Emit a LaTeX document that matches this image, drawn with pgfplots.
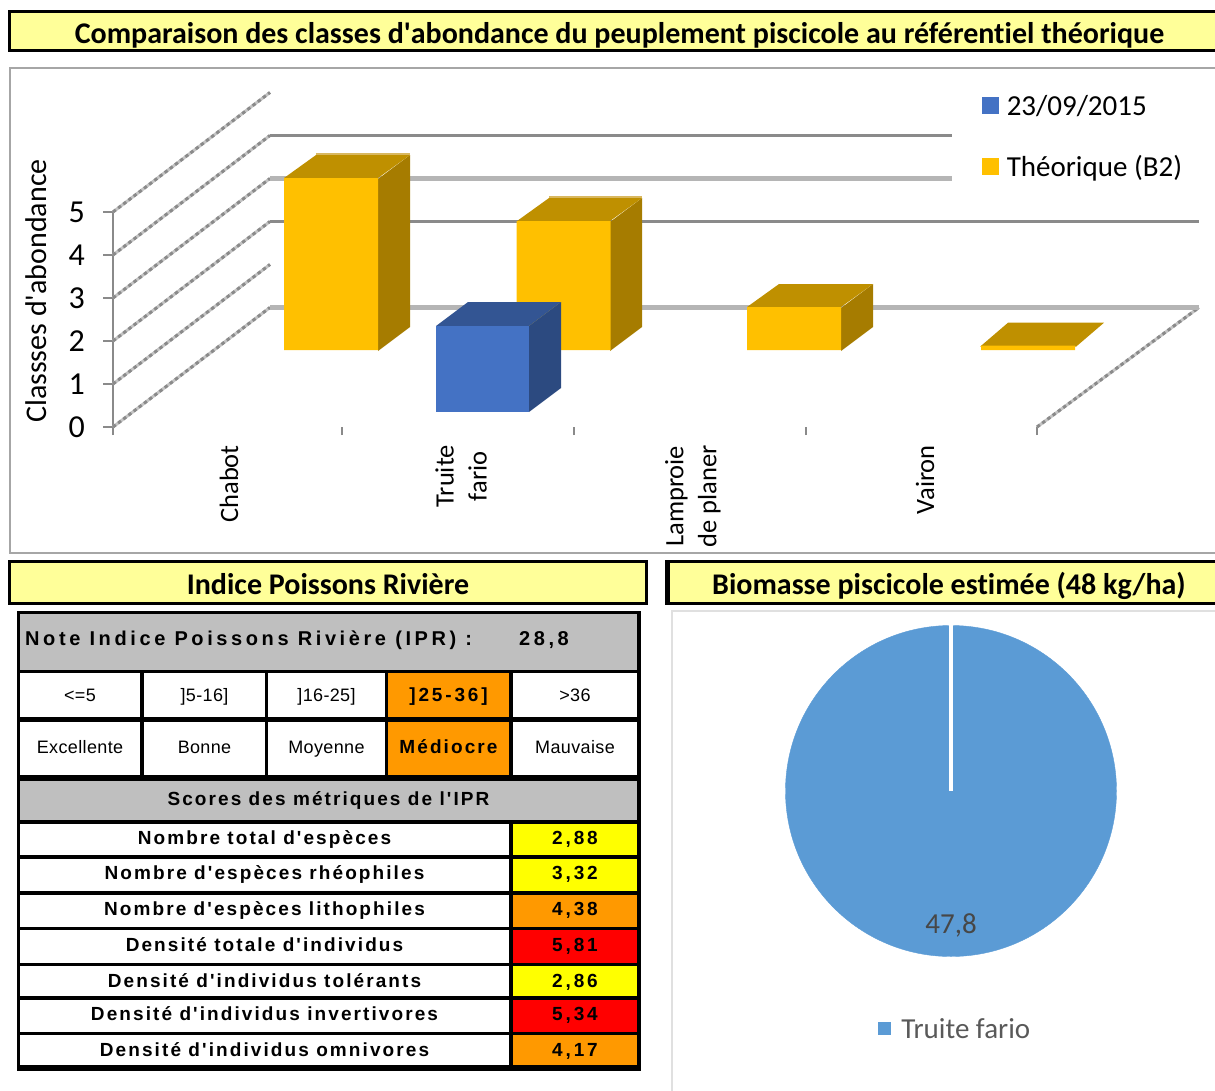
\documentclass[border=0pt]{standalone}
\usepackage{pgfplots}
\pgfplotsset{compat=1.18}
\usepackage{fontspec}
\setmainfont[Ligatures=NoCommon]{Carlito}
\newfontfamily\tabfont[LetterSpace=11]{Liberation Sans}
\newfontfamily\widefont[LetterSpace=15]{Liberation Sans}
\newfontfamily\headfont[LetterSpace=18]{Liberation Sans}
\newfontfamily\regfont[LetterSpace=2]{Liberation Sans}
\definecolor{ybox}{HTML}{FFFF99}
\definecolor{gold}{HTML}{FFC000}
\definecolor{goldside}{HTML}{A67C00}
\definecolor{goldtop}{HTML}{BF9000}
\definecolor{goldlight}{HTML}{D9B860}
\definecolor{blue1}{HTML}{4472C4}
\definecolor{blueside}{HTML}{2C4A80}
\definecolor{bluetop}{HTML}{335593}
\definecolor{griddark}{HTML}{8A8A8A}
\definecolor{gridlight}{HTML}{B5B5B5}
\definecolor{difflight}{HTML}{C4C4C4}
\definecolor{framec}{HTML}{A6A6A6}
\definecolor{piec}{HTML}{5B9BD5}
\definecolor{tgray}{HTML}{BFBFBF}
\definecolor{torange}{HTML}{FF9900}
\definecolor{pureyellow}{rgb}{1,1,0}
\definecolor{purered}{rgb}{1,0,0}
\newcommand\tcell[6]{\fill[#5] (#1,#2) rectangle (#3,#4);\node[anchor=center,inner sep=0pt,text height=13bp,text depth=4bp] at ({(#1+#3)/2},{(#2+#4)/2}) {#6};}
\newcommand\tb{\tabfont\bfseries\fontsize{19bp}{20bp}\selectfont}
\newcommand\tw{\widefont\bfseries\fontsize{19bp}{20bp}\selectfont}
\newcommand\thd{\headfont\bfseries\fontsize{20bp}{22bp}\selectfont}
\newcommand\tr{\regfont\fontsize{18bp}{20bp}\selectfont}
\newcommand\dn[1]{\raisebox{-2bp}{#1}}
\newcommand\banner[5]{\fill[black] (#1,#2) rectangle (#3,#4);\fill[ybox] ({#1+3},{#2+3}) rectangle ({#3-3},{#4-3});\node[anchor=center,inner sep=0pt] at ({(#1+#3)/2},{(#2+#4)/2+6}) {\bfseries\fontsize{30bp}{32bp}\selectfont\strut #5};}
\begin{document}
\begin{tikzpicture}
\useasboundingbox (0bp,0bp) rectangle (1215bp,-1091bp);
\begin{scope}[x=1bp,y=-1bp]
\banner{8}{10}{1225}{52}{\hspace*{6bp}Comparaison des classes d\textquotesingle abondance du peuplement piscicole au référentiel théorique}
\banner{8}{560}{648}{605}{Indice Poissons Rivière}
\banner{665}{560}{1225}{605}{\hspace*{8bp}Biomasse piscicole estimée (48 kg/ha)}
\fill[black] (665,560) rectangle (670,605);
\draw[framec,line width=2bp] (10,68) rectangle (1225,553);
\draw[black!12,line width=1.5bp] (672,1100) -- (672,611) -- (1225,611);
\fill[black] (17,611) rectangle (641,1071);
\tcell{20}{614}{637}{670}{tgray}{}
\node[anchor=west,inner sep=0pt,text height=14bp,text depth=4bp] at (25,640) {\thd Note Indice Poissons Rivière (IPR) :};
\node[anchor=center,inner sep=0pt,text height=14bp,text depth=4bp] at (544,640) {\thd 28,8};
\tcell{20}{673}{140}{717}{white}{\tr\dn{<=5}}
\tcell{144}{673}{265}{717}{white}{\tr\dn{]5-16]}}
\tcell{268}{673}{385}{717}{white}{\tr\dn{]16-25]}}
\tcell{388}{673}{509}{717}{torange}{\tw\dn{]25-36]}}
\tcell{513}{673}{637}{717}{white}{\tr\dn{>36}}
\tcell{20}{722}{140}{775}{white}{\tr Excellente}
\tcell{144}{722}{265}{775}{white}{\tr Bonne}
\tcell{268}{722}{385}{775}{white}{\tr Moyenne}
\tcell{388}{722}{509}{775}{torange}{\tb Médiocre}
\tcell{513}{722}{637}{775}{white}{\tr Mauvaise}
\tcell{20}{781}{637}{820}{tgray}{\tb Scores des métriques de l'IPR}
\tcell{20}{824}{509}{855}{white}{\tb Nombre total d'espèces}
\tcell{513}{824}{637}{855}{pureyellow}{\tw 2,88}
\tcell{20}{859}{509}{891}{white}{\tb Nombre d'espèces rhéophiles}
\tcell{513}{859}{637}{891}{pureyellow}{\tw 3,32}
\tcell{20}{895}{509}{927}{white}{\tb Nombre d'espèces lithophiles}
\tcell{513}{895}{637}{927}{torange}{\tw 4,38}
\tcell{20}{930}{509}{963}{white}{\tb Densité totale d'individus}
\tcell{513}{930}{637}{963}{purered}{\tw 5,81}
\tcell{20}{966}{509}{996}{white}{\tb\dn{Densité d'individus tolérants}}
\tcell{513}{966}{637}{996}{pureyellow}{\tw\dn{2,86}}
\tcell{20}{1000}{509}{1032}{white}{\tb Densité d'individus invertivores}
\tcell{513}{1000}{637}{1032}{purered}{\tw 5,34}
\tcell{20}{1035}{509}{1065}{white}{\tb\dn{Densité d'individus omnivores}}
\tcell{513}{1035}{637}{1065}{torange}{\tw\dn{4,17}}
\end{scope}
\begin{axis}[
  at={(113bp,-427bp)},anchor=origin,
  scale only axis,width=924bp,height=215bp,
  xmin=113,xmax=1037,ymin=0,ymax=5,clip=false,
  axis y line=left,axis x line=bottom,
  axis line style={-,draw=griddark,line width=1.5bp},
  x axis line style={draw=none},
  tick align=outside,
  ytick={0,1,2,3,4,5},
  xtick={229,461,693,925},
  xticklabels={Chabot,{Truite\\fario},{Lamproie\\de planer},Vairon},
  minor xtick={113,342,574,806,1037},
  major x tick style={draw=none},
  minor x tick style={draw=griddark,line width=1.5bp},
  major y tick style={draw=griddark,line width=1.5bp},
  minor tick length=8bp,major tick length=10bp,
  tick label style={/pgf/number format/assume math mode=true},
  yticklabel style={font=\fontsize{32bp}{34bp}\selectfont,inner sep=0pt,xshift=-18bp},
  xticklabel style={font=\fontsize{26.5bp}{33bp}\selectfont,rotate=90,anchor=east,align=center,inner sep=0pt,xshift=-8bp},
  ylabel={Classses d\textquotesingle abondance},
  every axis y label/.style={at={(-77bp,136bp)},rotate=90,anchor=center,font=\fontsize{30bp}{32bp}\selectfont},
  legend image code/.code={\fill[#1] (0bp,-8.5bp) rectangle (17bp,8.5bp);},
  legend cell align=left,
  legend style={draw=none,fill=none,at={(0.94,1.555)},anchor=north west,row sep=35bp,column sep=6bp,font=\fontsize{29bp}{31bp}\selectfont,inner sep=0pt},
]
\addlegendimage{fill=blue1,draw=none}\addlegendentry{23/09/2015}
\addlegendimage{fill=gold,draw=none}\addlegendentry{Théorique (B2)}
% depth lines of the floor and the side wall
\pgfplotsinvokeforeach{0,1,2,3,4,5}{
\addplot[forget plot,difflight,line width=3bp] coordinates {(113,#1) (270,#1+2.78)};
\addplot[forget plot,griddark,line width=3bp,dash pattern=on 3.5bp off 3bp] coordinates {(113,#1) (270,#1+2.78)};
}
\addplot[forget plot,difflight,line width=3bp] coordinates {(1037,0) (1199,2.78)};
\addplot[forget plot,griddark,line width=3bp,dash pattern=on 3.5bp off 3bp] coordinates {(1037,0) (1199,2.78)};
% back wall gridlines
\addplot[forget plot,griddark,line width=3bp] coordinates {(270,6.78) (952,6.78)};
\addplot[forget plot,gridlight,line width=5bp] coordinates {(270,5.78) (952,5.78)};
\addplot[forget plot,griddark,line width=3bp] coordinates {(270,4.78) (1199,4.78)};
\addplot[forget plot,gridlight,line width=5bp] coordinates {(270,2.78) (1199,2.78)};
% Théorique (B2): sides and tops
\addplot[forget plot,fill=goldside,draw=none] coordinates {(378,1.767) (410,2.325) (410,6.325) (378,5.767)} -- cycle;
\addplot[forget plot,fill=goldtop,draw=none] coordinates {(284,5.79) (316,6.325) (410,6.325) (378,5.79)} -- cycle;
\addplot[forget plot,goldlight,line width=2bp] coordinates {(316,6.35) (410,6.35)};
\addplot[forget plot,fill=goldside,draw=none] coordinates {(610,1.767) (642,2.325) (642,5.325) (610,4.767)} -- cycle;
\addplot[forget plot,fill=goldtop,draw=none] coordinates {(517,4.79) (549,5.325) (642,5.325) (610,4.79)} -- cycle;
\addplot[forget plot,goldlight,line width=2bp] coordinates {(549,5.35) (642,5.35)};
\addplot[forget plot,fill=goldside,draw=none] coordinates {(841,1.767) (873,2.325) (873,3.325) (841,2.767)} -- cycle;
\addplot[forget plot,fill=goldtop,draw=none] coordinates {(747,2.79) (779,3.325) (873,3.325) (841,2.79)} -- cycle;
\addplot[forget plot,fill=goldtop,draw=none] coordinates {(980,1.867) (1008,2.425) (1104,2.425) (1076,1.867)} -- cycle;
% Théorique (B2): fronts
\addplot[forget plot,ybar,bar width=94bp,bar shift=0pt,fill=gold,draw=none,yshift=77bp] coordinates {(331,4) (563.5,3) (794,1) (1028,0.1)};
% 23/09/2015
\addplot[forget plot,fill=blueside,draw=none] coordinates {(529,0.349) (561,0.907) (561,2.907) (529,2.349)} -- cycle;
\addplot[forget plot,fill=bluetop,draw=none] coordinates {(436,2.349) (468,2.907) (561,2.907) (529,2.349)} -- cycle;
\addplot[forget plot,ybar,bar width=93bp,bar shift=0pt,fill=blue1,draw=none,yshift=15bp] coordinates {(482.5,2)};
\end{axis}
% pie: one slice, Truite fario = 47,8
\begin{axis}[
  at={(951bp,-791bp)},anchor=center,
  scale only axis,width=330bp,height=330bp,
  xmin=-1,xmax=1,ymin=-1,ymax=1,clip=false,hide axis,
]
\addplot[only marks,mark=*,mark size=165.5bp,mark options={fill=piec,draw=piec},forget plot] coordinates {(0,0)};
\end{axis}
\begin{axis}[
  at={(951bp,-791bp)},anchor=center,
  scale only axis,width=330bp,height=330bp,
  xmin=-1,xmax=1,ymin=-1,ymax=1,clip=false,hide axis,
  legend image code/.code={\fill[#1] (0bp,-6.5bp) rectangle (13bp,6.5bp);},
  legend style={draw=none,fill=none,at={(0.279,-0.221)},anchor=west,inner sep=0pt,column sep=8bp,text=black!65,font=\fontsize{29bp}{31bp}\selectfont},
]
\addplot[forget plot,white,line width=4bp] coordinates {(0,0) (0,1.01)};
\addplot[forget plot,draw=none,nodes near coords={47,8},nodes near coords style={font=\fontsize{29bp}{31bp}\selectfont,text=black!72,anchor=center}] coordinates {(0,-0.815)};
\addlegendimage{fill=piec,draw=none}\addlegendentry{Truite fario}
\end{axis}
\end{tikzpicture}
\end{document}
